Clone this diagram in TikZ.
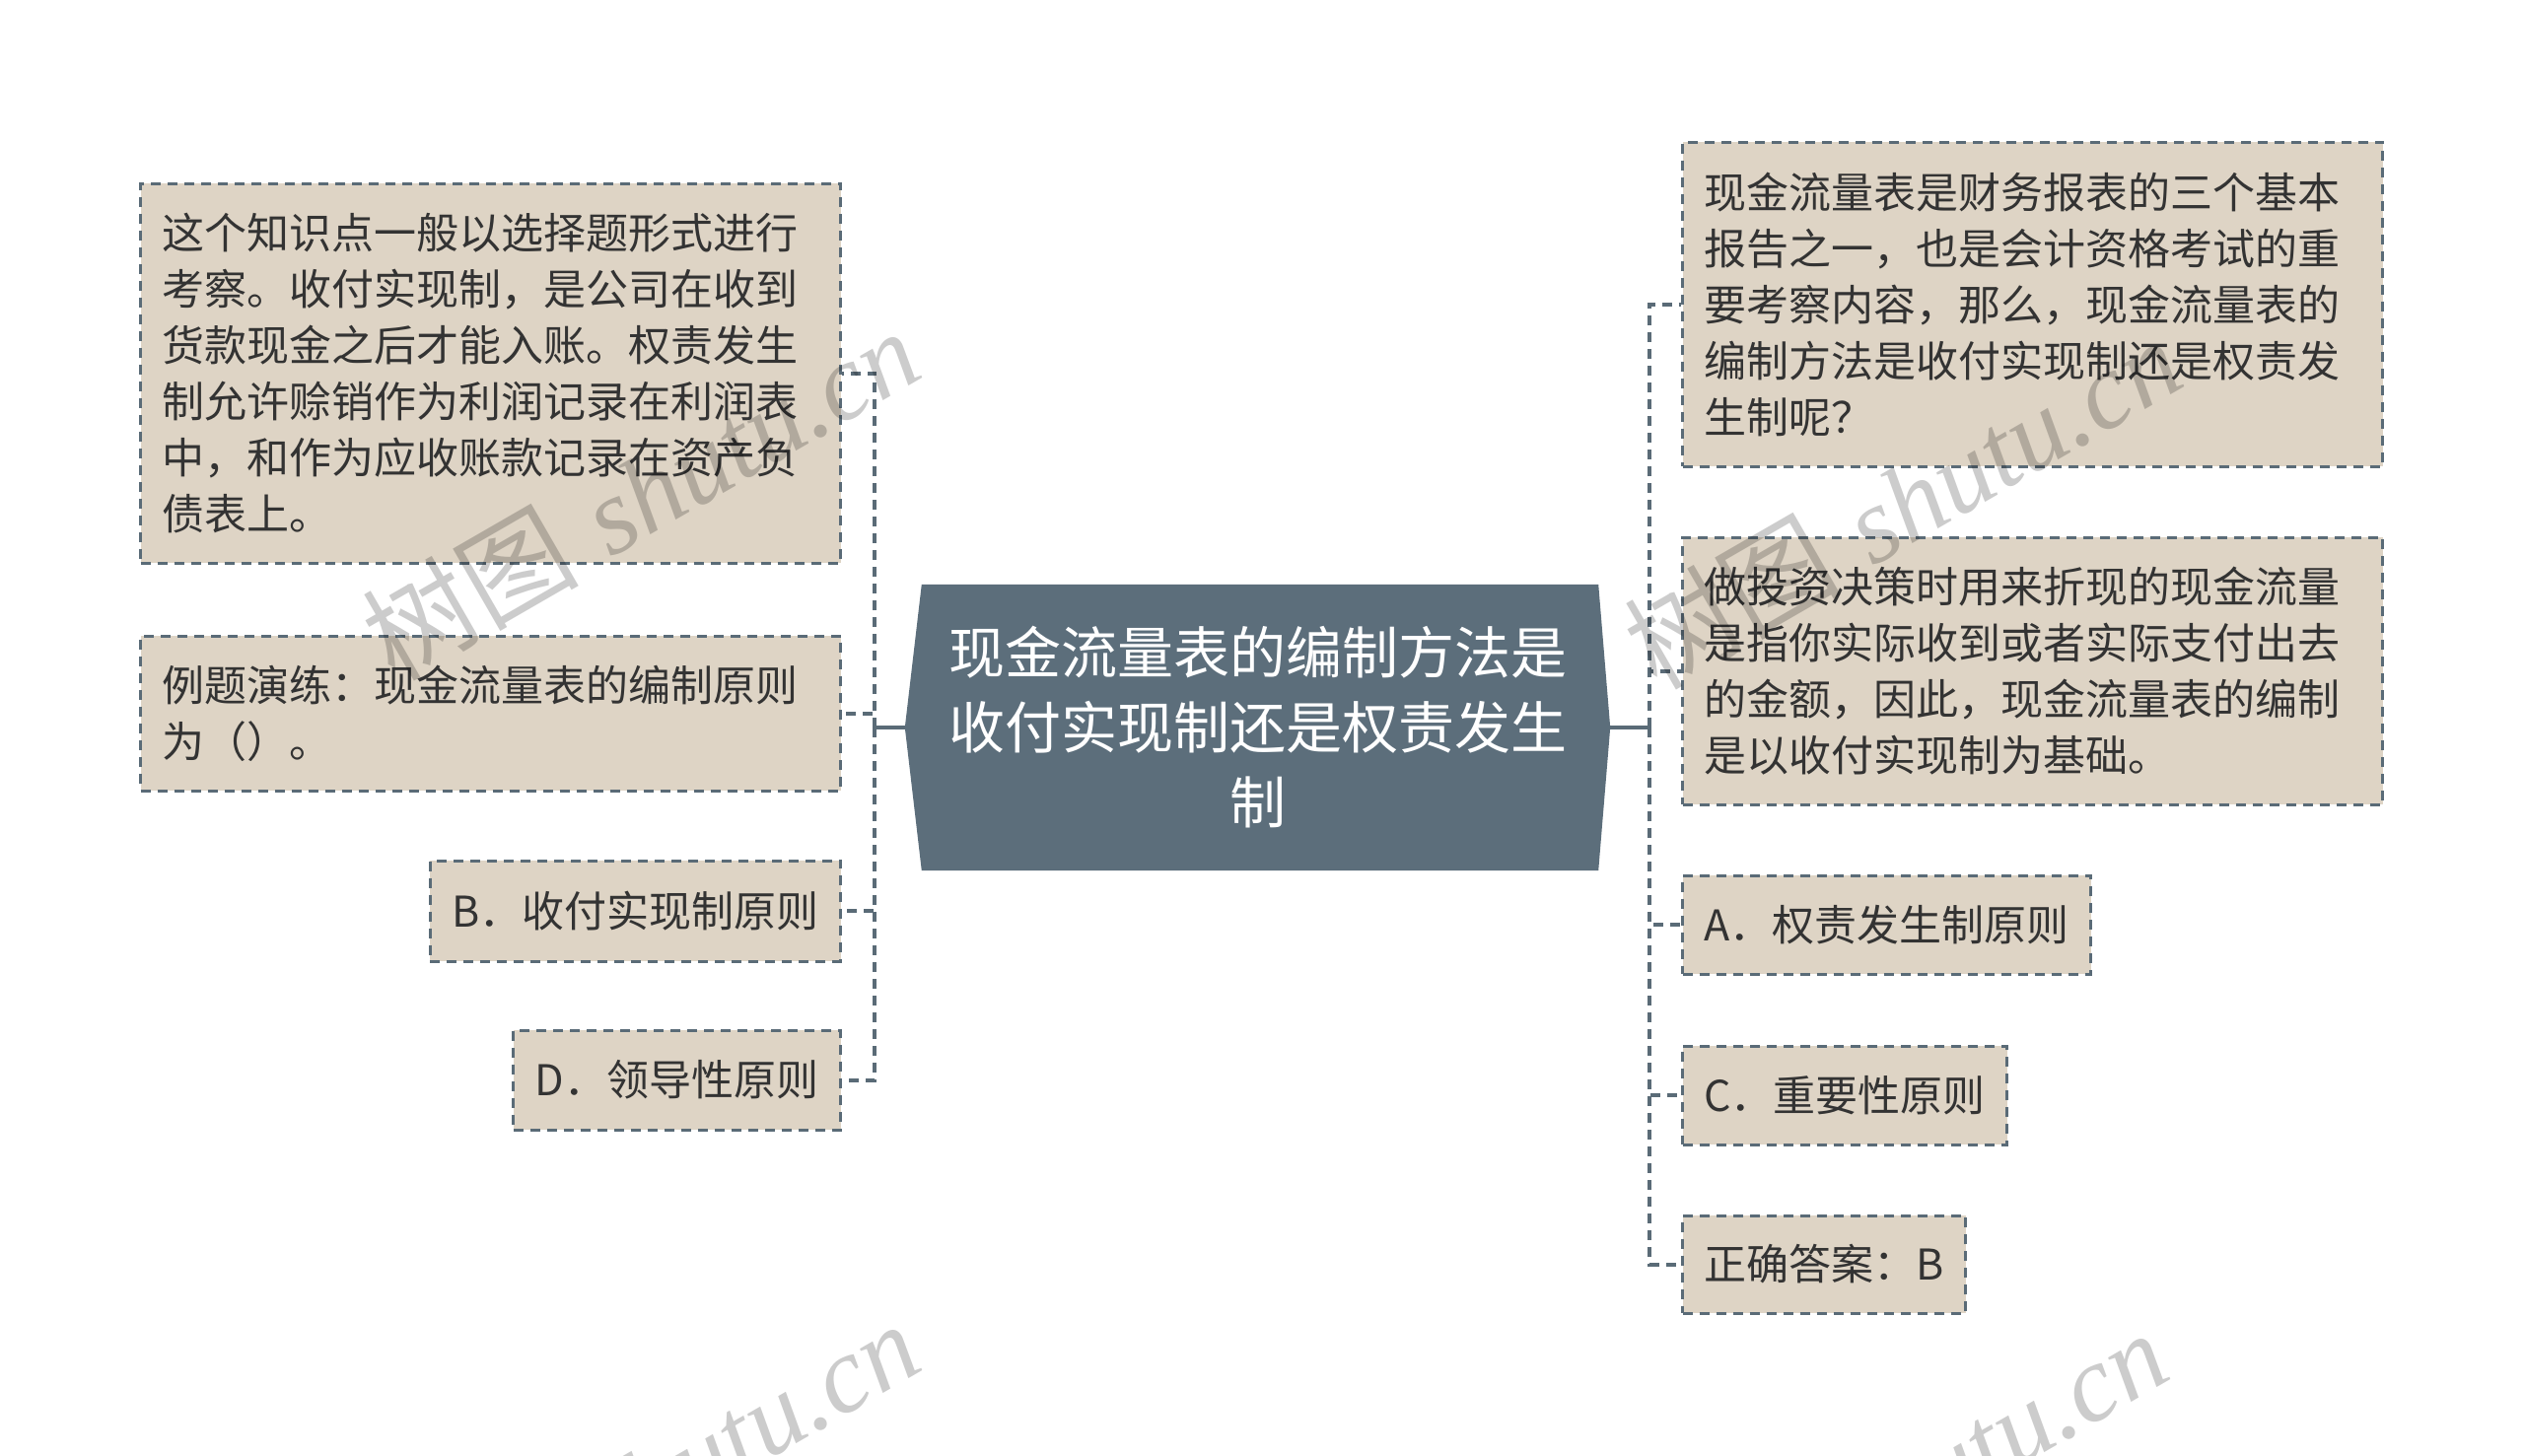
\documentclass[tikz,border=0pt]{standalone}
\usepackage{fontspec}
\newfontfamily\cjk{Noto Sans CJK SC}
\newfontfamily\wmlatin{Liberation Serif}
\usetikzlibrary{backgrounds,calc}
\definecolor{hubfill}{HTML}{5C6E7B}
\definecolor{boxfill}{HTML}{DED4C5}
\definecolor{edgec}{HTML}{5A6B77}
\definecolor{txt}{HTML}{333333}
\begin{document}
\begin{tikzpicture}[x=1pt,y=-1pt,
  leaf/.style={rectangle, draw=edgec, fill=boxfill, line width=3pt,
    dash pattern=on 10pt off 7pt, text=txt,
    font=\cjk\fontsize{43}{57}\selectfont,
    inner xsep=22pt, inner ysep=0pt, align=left},
  wide/.style={leaf, text width=666pt},
  link/.style={draw=edgec, line width=4pt, dash pattern=on 10pt off 7pt},
  stem/.style={draw=edgec, line width=4pt},
  wm/.style={rotate=30, text=black, opacity=0.2, inner sep=0pt,
    font=\fontsize{110}{110}\selectfont}
]
\useasboundingbox (0,0) rectangle (2560,1476);

% central topic
\node[minimum width=715pt, minimum height=290pt, text=white, align=center,
      font=\cjk\fontsize{57}{76}\selectfont, inner sep=0pt] (hub) at (1275.5,738)
  {现金流量表的编制方法是\\收付实现制还是权责发生\\制};

% left branches
\node[wide, minimum height=385pt, anchor=east] (l1) at (854,378.5)
  {这个知识点一般以选择题形式进行\\考察。收付实现制，是公司在收到\\货款现金之后才能入账。权责发生\\制允许赊销作为利润记录在利润表\\中，和作为应收账款记录在资产负\\债表上。};
\node[wide, minimum height=157pt, anchor=east] (l2) at (854,723.5)
  {例题演练：现金流量表的编制原则\\为（）。};
\node[leaf, minimum height=102pt, anchor=east] (l3) at (854,924)
  {B．收付实现制原则};
\node[leaf, minimum height=101pt, anchor=east] (l4) at (854,1095.5)
  {D．领导性原则};

% right branches
\node[wide, minimum height=329pt, anchor=west] (r1) at (1705,308.5)
  {现金流量表是财务报表的三个基本\\报告之一，也是会计资格考试的重\\要考察内容，那么，现金流量表的\\编制方法是收付实现制还是权责发\\生制呢？};
\node[wide, minimum height=271pt, anchor=west] (r2) at (1705,680.5)
  {做投资决策时用来折现的现金流量\\是指你实际收到或者实际支付出去\\的金额，因此，现金流量表的编制\\是以收付实现制为基础。};
\node[leaf, minimum height=100pt, anchor=west] (r3) at (1705,938)
  {A．权责发生制原则};
\node[leaf, minimum height=100pt, anchor=west] (r4) at (1705,1111)
  {C．重要性原则};
\node[leaf, minimum height=99pt, anchor=west] (r5) at (1705,1282.5)
  {正确答案：B};

\begin{scope}[on background layer]
  \fill[white] (0,0) rectangle (2560,1476);
  \fill[hubfill] ($(hub.north west)+(17,0)$) -- ($(hub.north east)+(-12,0)$)
    -- (hub.east) -- ($(hub.south east)+(-12,0)$)
    -- ($(hub.south west)+(17,0)$) -- (hub.west) -- cycle;
\end{scope}

% connectors
\coordinate (lj) at (887,738);
\coordinate (rj) at (1673,738);
\draw[stem] (hub.west) -- (lj);
\draw[stem] (hub.east) -- (rj);
\foreach \n in {l1,l2,l3,l4} \draw[link] (lj) |- (\n.east);
\foreach \n in {r1,r2,r3,r4,r5} \draw[link] (rj) |- (\n.west);

% watermarks
\begin{scope}
  \clip (0,0) rectangle (2560,1476);
  \node[wm] (w1) at (649,501) {{\cjk 树图} {\wmlatin\itshape shutu.cn}};
  \node[wm] (w2) at (1929,510) {{\cjk 树图} {\wmlatin\itshape shutu.cn}};
  \node[wm] (w3) at (649,1508) {{\cjk 树图} {\wmlatin\itshape shutu.cn}};
  \node[wm] (w4) at (1915,1517) {{\cjk 树图} {\wmlatin\itshape shutu.cn}};
\end{scope}
\end{tikzpicture}
\end{document}
